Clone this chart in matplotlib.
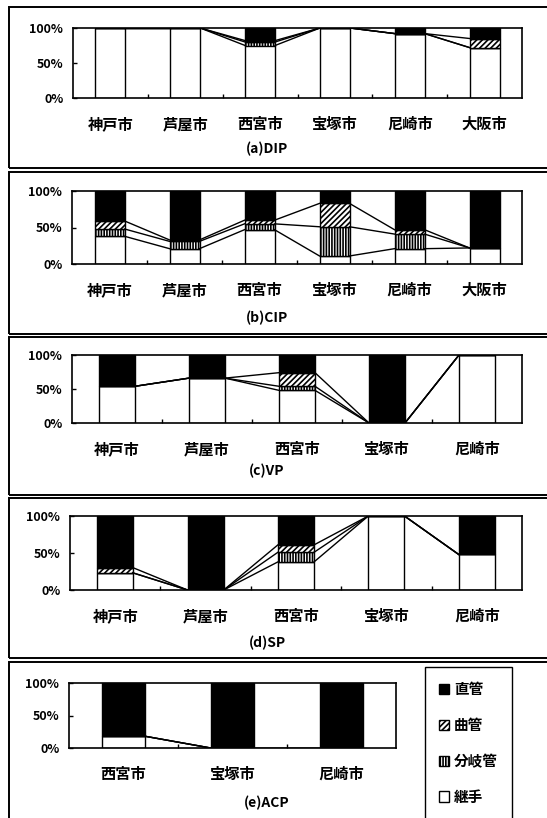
import matplotlib
matplotlib.use("Agg")
import matplotlib.pyplot as plt
from matplotlib.patches import Patch, Rectangle
import numpy as np

plt.rcParams["font.family"] = ["Noto Sans CJK JP", "DejaVu Sans"]
plt.rcParams["font.weight"] = "bold"
plt.rcParams["hatch.linewidth"] = 1.2

# 系列（下から）: 継手, 分岐管, 曲管, 直管  [%]
series_names = ["継手", "分岐管", "曲管", "直管"]

cities_a = ["神戸市", "芦屋市", "西宮市", "宝塚市", "尼崎市", "大阪市"]
dip_joint = [100, 100, 75, 100, 92, 72]
dip_branch = [0, 0, 5, 0, 0, 0]
dip_bend = [0, 0, 2, 0, 0, 13]
dip_straight = [0, 0, 18, 0, 8, 15]

cities_b = ["神戸市", "芦屋市", "西宮市", "宝塚市", "尼崎市", "大阪市"]
cip_joint = [38, 21, 47, 11, 21, 22]
cip_branch = [10, 10, 8, 40, 20, 0]
cip_bend = [11, 2, 5, 32, 6, 0]
cip_straight = [41, 67, 40, 17, 53, 78]

cities_c = ["神戸市", "芦屋市", "西宮市", "宝塚市", "尼崎市"]
vp_joint = [54, 66, 48, 0, 100]
vp_branch = [0, 0, 6, 0, 0]
vp_bend = [0, 0, 20, 0, 0]
vp_straight = [46, 34, 26, 100, 0]

cities_d = ["神戸市", "芦屋市", "西宮市", "宝塚市", "尼崎市"]
sp_joint = [23, 0, 38, 100, 48]
sp_branch = [0, 0, 13, 0, 0]
sp_bend = [7, 0, 10, 0, 0]
sp_straight = [70, 100, 39, 0, 52]

cities_e = ["西宮市", "宝塚市", "尼崎市"]
acp_joint = [18, 0, 0]
acp_branch = [0, 0, 0]
acp_bend = [0, 0, 0]
acp_straight = [82, 100, 100]

W, H = 547, 818
fig = plt.figure(figsize=(W / 100, H / 100), dpi=100)

styles = [
    dict(facecolor="white", hatch=None),
    dict(facecolor="white", hatch="||||||"),
    dict(facecolor="white", hatch="//////"),
    dict(facecolor="black", hatch=None),
]
BAR_W = 0.4


def add_axes_px(left, top, right, bottom):
    return fig.add_axes([left / W, 1 - bottom / H, (right - left) / W, (bottom - top) / H])


def draw_panel(box, plot, cats, values, title, title_y):
    # 外枠
    bl, bt, br, bb = box
    fig.patches.append(Rectangle((bl / W, 1 - bb / H), (br - bl) / W, (bb - bt) / H,
                                 transform=fig.transFigure, fill=False,
                                 edgecolor="black", linewidth=1.4))
    ax = add_axes_px(*plot)
    x = np.arange(len(cats))
    bottom = np.zeros(len(cats))
    tops = []
    for vals, st in zip(values, styles):
        vals = np.asarray(vals, dtype=float)
        ax.bar(x, vals, width=BAR_W, bottom=bottom, facecolor=st["facecolor"],
               hatch=st["hatch"], edgecolor="black", linewidth=1.0, zorder=2)
        bottom = bottom + vals
        tops.append(bottom.copy())
    # 区分線
    for t in tops[:-1]:
        for i in range(len(cats) - 1):
            ax.plot([x[i] + BAR_W / 2, x[i + 1] - BAR_W / 2], [t[i], t[i + 1]],
                    color="black", linewidth=1.0, zorder=3)
    ax.set_xlim(-0.5, len(cats) - 0.5)
    ax.set_ylim(0, 100)
    ax.set_yticks([0, 50, 100])
    ax.set_yticklabels(["0%", "50%", "100%"], fontsize=9, fontweight="bold")
    ax.tick_params(axis="y", direction="in", length=3, width=1, pad=7)
    ax.set_xticks(x)
    ax.set_xticklabels(cats, fontsize=11, fontweight="bold")
    ax.tick_params(axis="x", which="major", length=0, pad=13)
    ax.set_xticks(np.arange(len(cats) - 1) + 0.5, minor=True)
    ax.tick_params(axis="x", which="minor", direction="in", length=3, width=1)
    for sp in ax.spines.values():
        sp.set_linewidth(1.2)
    fig.text(267 / W, 1 - title_y / H, title, ha="center", va="center",
             fontsize=10, fontweight="bold")
    return ax


draw_panel((9, 7, 552, 168), (73, 28, 522, 98), cities_a,
           [dip_joint, dip_branch, dip_bend, dip_straight], "(a)DIP", 149)
draw_panel((9, 172, 552, 334), (72, 191, 522, 264), cities_b,
           [cip_joint, cip_branch, cip_bend, cip_straight], "(b)CIP", 318)
draw_panel((9, 337, 552, 495), (72, 355, 522, 423), cities_c,
           [vp_joint, vp_branch, vp_bend, vp_straight], "(c)VP", 471)
draw_panel((9, 498, 552, 658), (70, 516, 522, 590), cities_d,
           [sp_joint, sp_branch, sp_bend, sp_straight], "(d)SP", 643)
draw_panel((9, 662, 552, 820), (69, 683, 396, 748), cities_e,
           [acp_joint, acp_branch, acp_bend, acp_straight], "(e)ACP", 803)

handles = [Patch(facecolor=st["facecolor"], hatch=st["hatch"], edgecolor="black",
                 linewidth=1.0) for st in styles][::-1]
fig.legend(handles, series_names[::-1], loc="center",
           bbox_to_anchor=(468.5 / W, 1 - 743 / H), frameon=True, fancybox=False,
           edgecolor="black", framealpha=1, handlelength=0.7, handleheight=0.7,
           handletextpad=0.3, labelspacing=1.35, borderpad=1.0,
           prop=dict(size=10.5, weight="bold"))

fig.savefig("out.png", dpi=100)
